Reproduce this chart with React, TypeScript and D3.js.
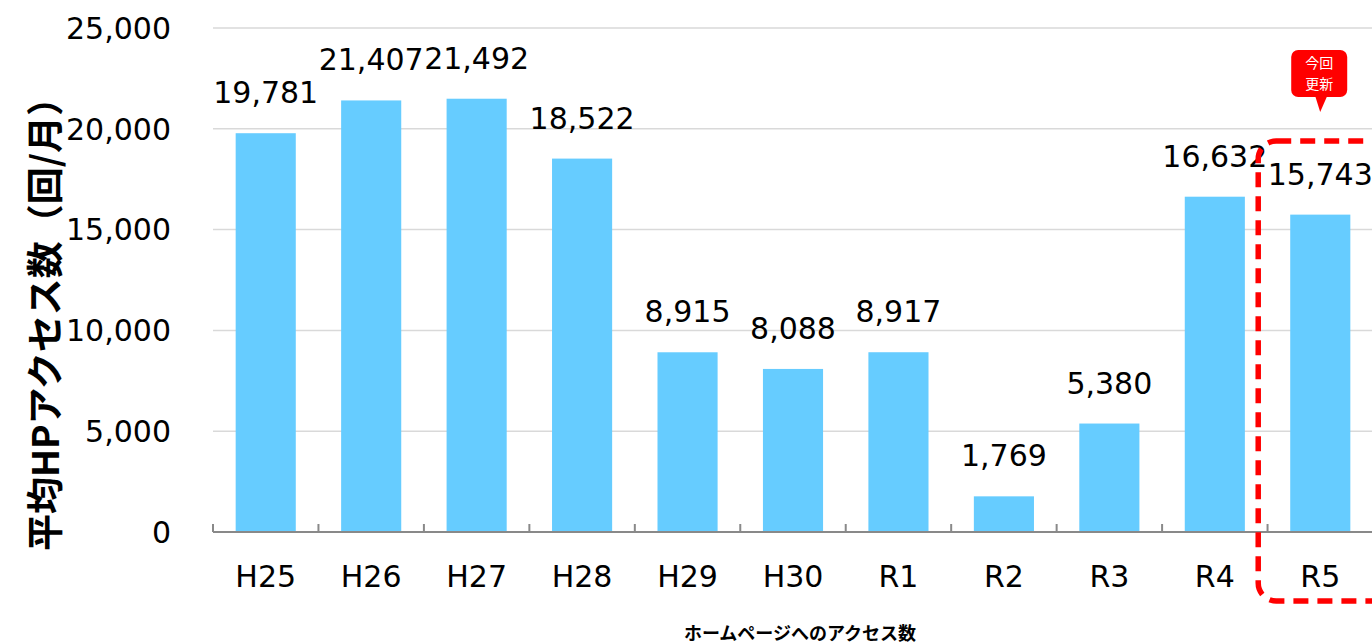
import { useEffect } from "react";
import * as d3 from "d3";

const categories = ["H25", "H26", "H27", "H28", "H29", "H30", "R1", "R2", "R3", "R4", "R5"];
const accessCounts = [19781, 21407, 21492, 18522, 8915, 8088, 8917, 1769, 5380, 16632, 15743];
const yTicks = [0, 5000, 10000, 15000, 20000, 25000];

const W = 1372;
const H = 644;
const FONT = "'DejaVu Sans', Verdana, sans-serif";
const JP = "'Noto Sans CJK JP', sans-serif";

const App = () => {
    useEffect(() => {
        document.body.style.margin = "0";
    }, []);

    const x = d3.scaleBand<string>().domain(categories).range([213, 1373]).paddingInner(0.43).paddingOuter(0.215);
    const y = d3.scaleLinear().domain([0, 25000]).range([532, 28]);
    const fmt = d3.format(",");
    const step = x.step();
    const boundaries = d3.range(categories.length + 1).map((i) => 213 + i * step);

    const last = categories[categories.length - 1];
    const lastX = x(last)!;

    return (
        <svg width={W} height={H} style={{ display: "block" }}>
            {/* gridlines */}
            {yTicks.filter((t) => t > 0).map((t) => (
                <line key={t} x1={213} x2={W} y1={y(t)} y2={y(t)} stroke="#d9d9d9" strokeWidth={1.5} />
            ))}
            {/* y tick labels */}
            {yTicks.map((t) => (
                <text key={t} x={171} y={y(t)} dy="0.36em" textAnchor="end" fontFamily={FONT} fontSize={30} fill="#000">
                    {fmt(t)}
                </text>
            ))}
            {/* bars */}
            {categories.map((c, i) => (
                <rect key={c} x={x(c)} y={y(accessCounts[i])} width={x.bandwidth()} height={y(0) - y(accessCounts[i])} fill="#66ccff" />
            ))}
            {/* value labels */}
            {categories.map((c, i) => (
                <text key={c} x={x(c)! + x.bandwidth() / 2} y={y(accessCounts[i]) - 30} textAnchor="middle" fontFamily={FONT} fontSize={30} fill="#000">
                    {fmt(accessCounts[i])}
                </text>
            ))}
            {/* x axis */}
            <line x1={213} x2={W} y1={532} y2={532} stroke="#898989" strokeWidth={2} />
            {boundaries.map((b, i) => (
                <line key={i} x1={b} x2={b} y1={524} y2={532} stroke="#898989" strokeWidth={2} />
            ))}
            {categories.map((c) => (
                <text key={c} x={x(c)! + x.bandwidth() / 2} y={587} textAnchor="middle" fontFamily={FONT} fontSize={30} fill="#000">
                    {c}
                </text>
            ))}
            {/* axis titles */}
            <text transform="translate(59,315) rotate(-90)" textAnchor="middle" fontFamily={JP} fontWeight="bold" fontSize={37} fill="#000">
                平均HPアクセス数（回/月）
            </text>
            <text x={800} y={640} textAnchor="middle" fontFamily={JP} fontWeight="bold" fontSize={18} fill="#000">
                ホームページへのアクセス数
            </text>
            {/* highlight */}
            <rect x={lastX - 32} y={141} width={160} height={460} rx={18} fill="none" stroke="#ff0000" strokeWidth={5.5} strokeDasharray="15 9" />
            <g transform={`translate(${lastX + 25},0)`}>
                <rect x={-24} y={50} width={56} height={47} rx={7} fill="#ff0000" />
                <path d="M0,96 L12,96 L5,112 Z" fill="#ff0000" />
                <text x={4} y={68} textAnchor="middle" fontFamily={JP} fontSize={14} fill="#fff">今回</text>
                <text x={4} y={89} textAnchor="middle" fontFamily={JP} fontSize={14} fill="#fff">更新</text>
            </g>
        </svg>
    );
};

export default App;
